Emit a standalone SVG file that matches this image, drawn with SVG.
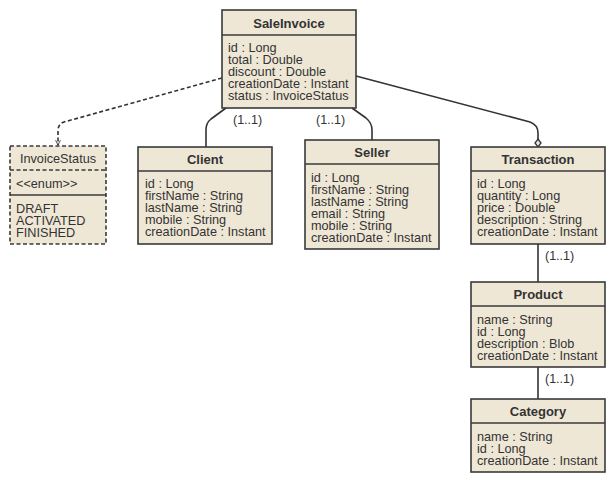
<svg xmlns="http://www.w3.org/2000/svg" width="616" height="483" viewBox="0 0 616 483">
<style>
.box{fill:#efe7d6;stroke:#3a3a3a;stroke-width:1.6}
.dash{stroke-dasharray:4,2.5}
.div{stroke:#3a3a3a;stroke-width:1.6}
.t{font-family:"Liberation Sans",Arial,sans-serif;font-size:12.7px;fill:#333}
.b{font-weight:bold;text-anchor:middle;font-size:13px}
.c{text-anchor:middle}
.lbl{font-family:"Liberation Sans",Arial,sans-serif;font-size:12.5px;fill:#333}
.ln{fill:none;stroke:#333;stroke-width:1.6}
</style>
<defs>
<marker id="arr" viewBox="0 0 10 10" refX="9" refY="5" markerWidth="6" markerHeight="6" orient="auto" markerUnits="userSpaceOnUse">
<path d="M1,1 L9,5 L1,9" fill="none" stroke="#333" stroke-width="1.5"/>
</marker>
</defs>
<g id="connectors">
<path class="ln dash" d="M222,78 L64,122 Q58,124 58,131 L58,145" marker-end="url(#arr)"/>
<path class="ln" d="M226,108 L211,119 Q206,123 206,130 L206,147"/>
<path class="ln" d="M352,108 L366,118 Q372,123 372,130 L372,140"/>
<path class="ln" d="M356,76 L530,122 Q538,125 538,133 L538,139"/>
<path d="M538,139 L541,143 L538,147 L535,143 Z" fill="#efe7d6" stroke="#333" stroke-width="1.3"/>
<path class="ln" d="M538,244 L538,282"/>
<path class="ln" d="M538,367 L538,399"/>
<text class="lbl" x="233" y="124">(1..1)</text>
<text class="lbl" x="316" y="124">(1..1)</text>
<text class="lbl" x="545" y="260">(1..1)</text>
<text class="lbl" x="545" y="383">(1..1)</text>
</g>
<g id="SaleInvoice">
<rect class="box" x="222" y="10" width="134" height="98"/>
<line class="div" x1="222" y1="35" x2="356" y2="35"/>
<text class="t b" x="289" y="28">SaleInvoice</text>
<text class="t" x="228" y="52">id : Long</text>
<text class="t" x="228" y="64">total : Double</text>
<text class="t" x="228" y="76">discount : Double</text>
<text class="t" x="228" y="88">creationDate : Instant</text>
<text class="t" x="228" y="100">status : InvoiceStatus</text>
</g>
<g id="InvoiceStatus">
<rect class="box dash" x="10" y="146" width="96" height="98"/>
<line class="div dash" x1="10" y1="170" x2="106" y2="170"/>
<line class="div" x1="10" y1="195" x2="106" y2="195"/>
<text class="t c" x="58" y="163">InvoiceStatus</text>
<text class="t" x="16" y="188">&lt;&lt;enum&gt;&gt;</text>
<text class="t" x="16" y="213">DRAFT</text>
<text class="t" x="16" y="225">ACTIVATED</text>
<text class="t" x="16" y="237">FINISHED</text>
</g>
<g id="Client">
<rect class="box" x="138" y="147" width="134" height="97"/>
<line class="div" x1="138" y1="171" x2="272" y2="171"/>
<text class="t b" x="205" y="164">Client</text>
<text class="t" x="145" y="188">id : Long</text>
<text class="t" x="145" y="200">firstName : String</text>
<text class="t" x="145" y="212">lastName : String</text>
<text class="t" x="145" y="224">mobile : String</text>
<text class="t" x="145" y="236">creationDate : Instant</text>
</g>
<g id="Seller">
<rect class="box" x="305" y="140" width="134" height="109"/>
<line class="div" x1="305" y1="164" x2="439" y2="164"/>
<text class="t b" x="372" y="157">Seller</text>
<text class="t" x="311" y="182">id : Long</text>
<text class="t" x="311" y="194">firstName : String</text>
<text class="t" x="311" y="206">lastName : String</text>
<text class="t" x="311" y="218">email : String</text>
<text class="t" x="311" y="230">mobile : String</text>
<text class="t" x="311" y="242">creationDate : Instant</text>
</g>
<g id="Transaction">
<rect class="box" x="471" y="147" width="134" height="97"/>
<line class="div" x1="471" y1="171" x2="605" y2="171"/>
<text class="t b" x="538" y="164">Transaction</text>
<text class="t" x="477" y="188">id : Long</text>
<text class="t" x="477" y="200">quantity : Long</text>
<text class="t" x="477" y="212">price : Double</text>
<text class="t" x="477" y="224">description : String</text>
<text class="t" x="477" y="236">creationDate : Instant</text>
</g>
<g id="Product">
<rect class="box" x="471" y="282" width="134" height="85"/>
<line class="div" x1="471" y1="306" x2="605" y2="306"/>
<text class="t b" x="538" y="299">Product</text>
<text class="t" x="477" y="324">name : String</text>
<text class="t" x="477" y="336">id : Long</text>
<text class="t" x="477" y="348">description : Blob</text>
<text class="t" x="477" y="360">creationDate : Instant</text>
</g>
<g id="Category">
<rect class="box" x="471" y="399" width="134" height="73"/>
<line class="div" x1="471" y1="423" x2="605" y2="423"/>
<text class="t b" x="538" y="416">Category</text>
<text class="t" x="477" y="441">name : String</text>
<text class="t" x="477" y="453">id : Long</text>
<text class="t" x="477" y="465">creationDate : Instant</text>
</g>
</svg>
